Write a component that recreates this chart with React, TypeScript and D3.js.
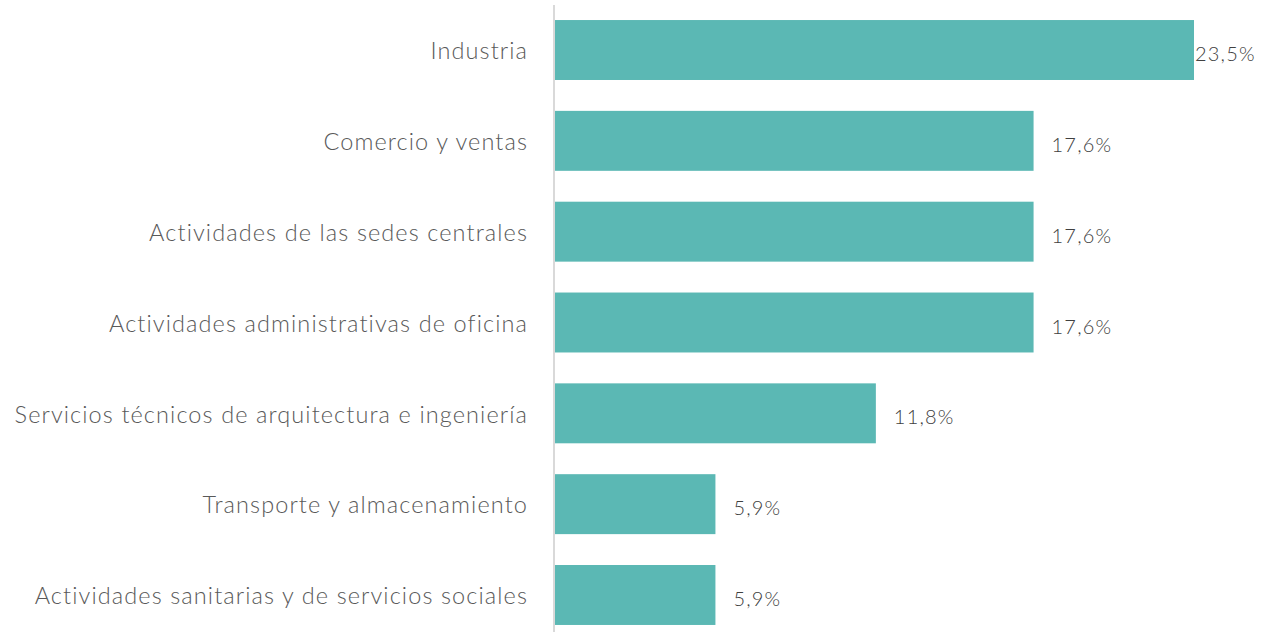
import * as d3 from "d3";

const categories = [
  "Industria",
  "Comercio y ventas",
  "Actividades de las sedes centrales",
  "Actividades administrativas de oficina",
  "Servicios técnicos de arquitectura e ingeniería",
  "Transporte y almacenamiento",
  "Actividades sanitarias y de servicios sociales",
];
const values = [23.5, 17.6, 17.6, 17.6, 11.8, 5.9, 5.9];

/** svg dimensions */
const width = 1276;
const height = 632;
const left = 555;
const fontFamily = "Lato, 'Noto Sans', sans-serif";

const fmt = (v: number) => v.toFixed(1).replace(".", ",") + "%";

const App = () => {
  const xScale = d3.scaleLinear().domain([0, 23.5]).range([left, 1194]);
  const yScale = d3
    .scaleBand()
    .domain(categories)
    .range([4.6, 640.4])
    .paddingInner(0.34)
    .paddingOuter(0.17);

  return (
    <svg
      width={width}
      height={height}
      viewBox={[0, 0, width, height].join(" ")}
      style={{ position: "absolute", left: 0, top: 0, background: "#fff" }}
    >
      {/* bars */}
      {categories.map((c, i) => (
        <rect
          key={c}
          x={xScale(0)}
          y={yScale(c)}
          width={xScale(values[i]) - xScale(0)}
          height={yScale.bandwidth()}
          fill="#5bb8b4"
        />
      ))}
      {/* axis line */}
      <line x1={left - 1} x2={left - 1} y1={5} y2={height} stroke="#d9d9d9" strokeWidth={2} />
      {/* category labels */}
      {categories.map((c) => (
        <text
          key={c}
          x={left - 27}
          y={(yScale(c) ?? 0) + yScale.bandwidth() / 2 + 1}
          dy="0.35em"
          textAnchor="end"
          fill="#595959"
          style={{ fontSize: "23.5px", fontFamily, fontWeight: 300, letterSpacing: "1.1px" }}
        >
          {c}
        </text>
      ))}
      {/* value labels */}
      {categories.map((c, i) => {
        const label = fmt(values[i]);
        const estW = label.length * 20 * 0.65;
        const x0 = xScale(values[i]) + 18;
        const overflow = x0 + estW > width - 10;
        return (
          <text
            key={c}
            x={overflow ? xScale(values[i]) + 1 : x0}
            y={(yScale(c) ?? 0) + yScale.bandwidth() / 2 + 4}
            dy="0.35em"
            fill="#404040"
            style={{ fontSize: "20px", fontFamily, fontWeight: 300, letterSpacing: "1.2px" }}
          >
            {label}
          </text>
        );
      })}
    </svg>
  );
};

export default App;
